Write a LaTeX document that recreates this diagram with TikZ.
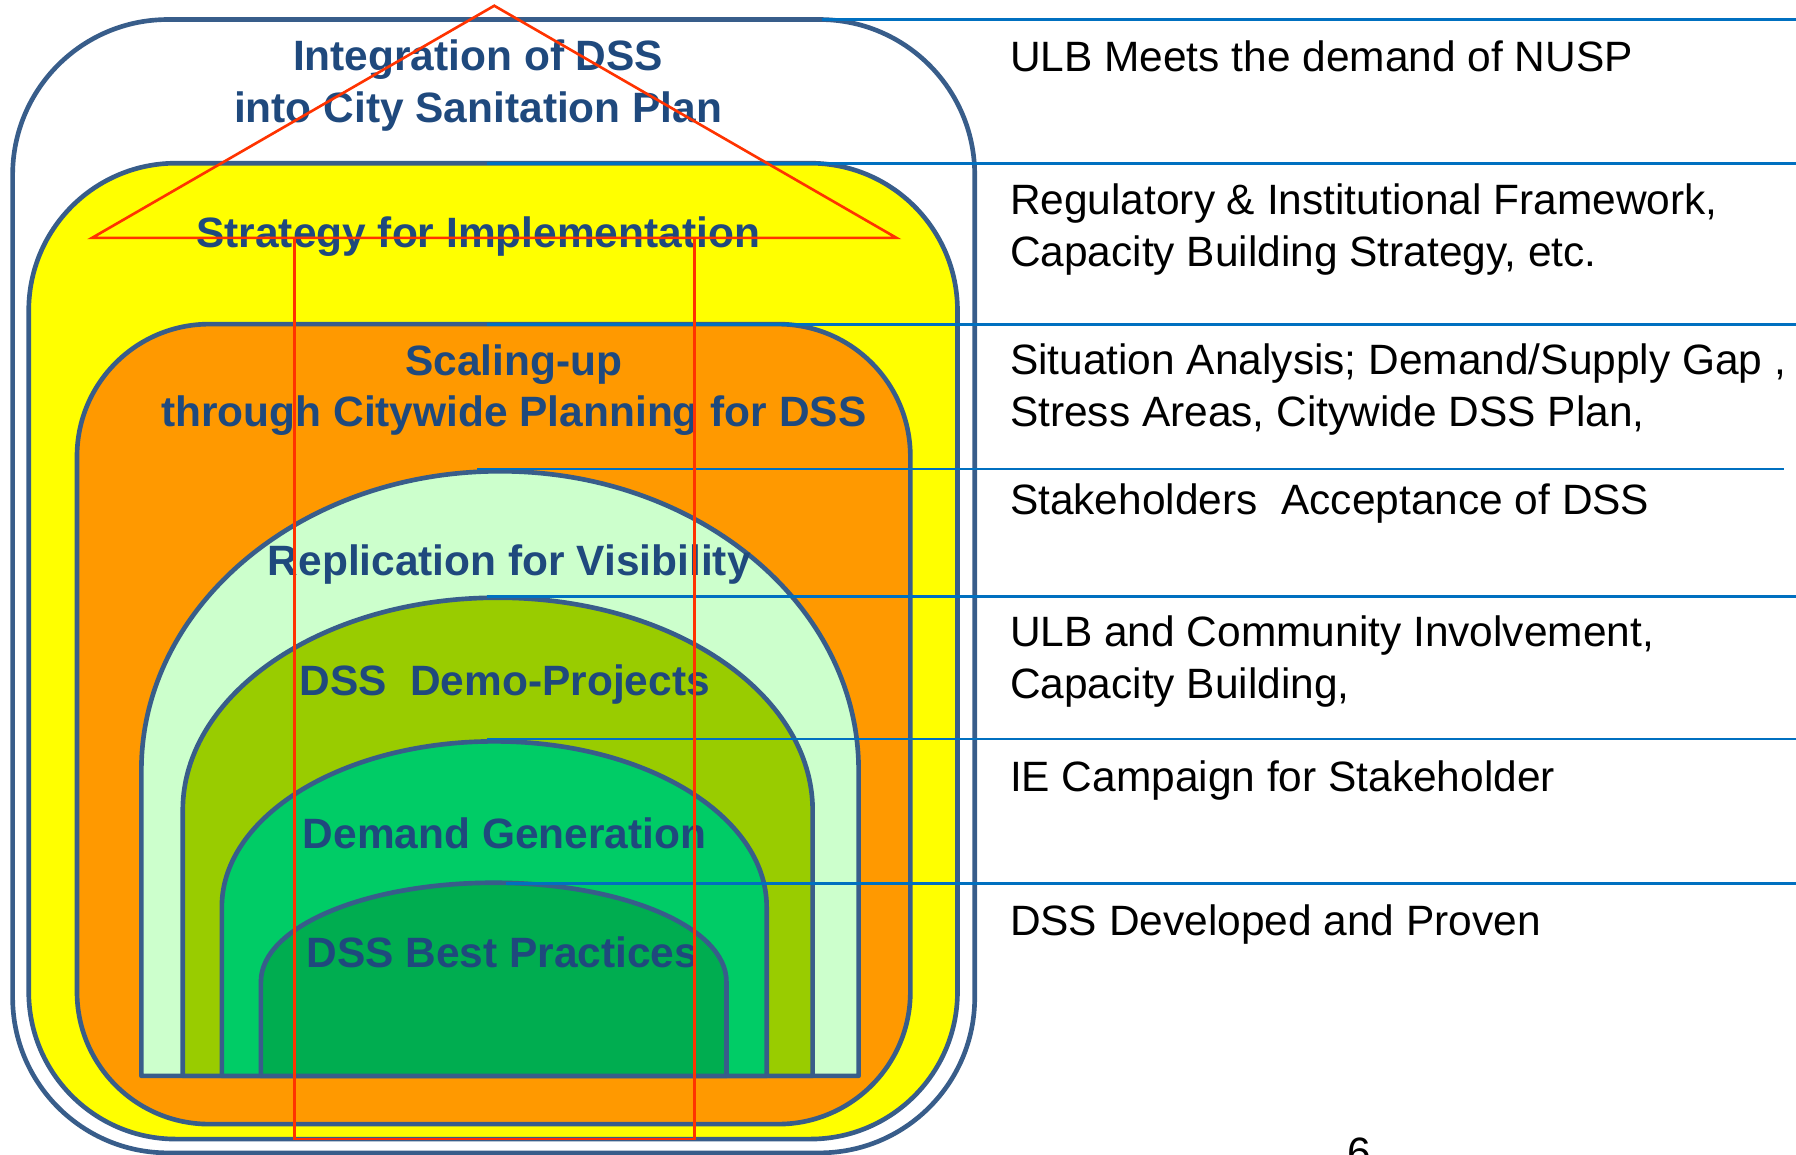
\documentclass[tikz,border=0pt]{standalone}
\usepackage{fontspec}
\setmainfont{Liberation Sans}
\usepackage{tikz}
\usetikzlibrary{positioning}
\definecolor{dssslate}{RGB}{56,93,138}
\definecolor{dssnavy}{RGB}{31,73,125}
\definecolor{dssline}{RGB}{0,112,192}
\definecolor{dssred}{RGB}{255,51,0}
\definecolor{dssyellow}{RGB}{255,255,0}
\definecolor{dssorange}{RGB}{255,153,0}
\definecolor{dssmint}{RGB}{204,255,204}
\definecolor{dsslime}{RGB}{153,204,0}
\definecolor{dssgreen}{RGB}{0,204,102}
\definecolor{dssdeep}{RGB}{0,173,80}
\tikzstyle{ring} = [draw=dssslate, line width=1.15pt]
\tikzstyle{dome} = [draw=dssslate, line width=1.15pt, line join=round]
\tikzstyle{ringtext} = [font=\fontsize{10.5}{12.8}\selectfont\bfseries, text=dssnavy, align=center, inner sep=0pt]
\tikzstyle{sidetext} = [font=\fontsize{10.5}{12.8}\selectfont, text=black, align=left, inner sep=0pt]
\tikzstyle{divider} = [draw=dssline, line width=0.7pt]
\tikzstyle{house} = [draw=dssred, line width=0.65pt]

\begin{document}
\begin{tikzpicture}[x=0.01cm, y=-0.01cm]
\useasboundingbox (0,0) rectangle (1562.5,1004.6);

% nested layers
\draw[ring, fill=white, rounded corners=1.35cm] (11,17) rectangle (848,1003);
\draw[ring, fill=dssyellow, rounded corners=1.28cm] (25,142) rectangle (833,991);
\draw[ring, fill=dssorange, rounded corners=1.15cm] (67,282) rectangle (792,978);

% domes
\draw[dome, fill=dssmint] (123,936) -- (123,670) arc[start angle=180, end angle=360, x radius=312, y radius=260] -- (747,936) -- cycle;
\draw[dome, fill=dsslime] (159,936) -- (159,705) arc[start angle=180, end angle=360, x radius=274, y radius=185] -- (707,936) -- cycle;
\draw[dome, fill=dssgreen] (193,936) -- (193,789) arc[start angle=180, end angle=360, x radius=237, y radius=144] -- (667,936) -- cycle;
\draw[dome, fill=dssdeep] (227,936) -- (227,854) arc[start angle=180, end angle=360, x radius=202.5, y radius=86] -- (632,936) -- cycle;

% dividers
\draw[divider] (715,17) -- (1562.5,17);
\draw[divider] (424,142) -- (1562.5,142);
\draw[divider] (424,282) -- (1562.5,282);
\draw[divider] (415,408) -- (1552,408);
\draw[divider] (424,519) -- (1562.5,519);
\draw[divider] (424,643) -- (1562.5,643);
\draw[divider] (440,769) -- (1562.5,769);

% layer names
\node[ringtext] (integ) at (416,74.5) {Integration of DSS\\into City Sanitation Plan};
\node[ringtext, anchor=base] (strat) at (416,215) {Strategy for Implementation};
\node[ringtext] (scale) at (447,339.5) {Scaling-up\\through Citywide Planning for DSS};
\node[ringtext, anchor=base] (repl) at (443,501) {Replication for Visibility};
\node[ringtext, anchor=base] (demo) at (439,605) {DSS\ \ Demo-Projects};
\node[ringtext, anchor=base] (demand) at (439,738) {Demand Generation};
\node[ringtext, anchor=base] (best) at (437,842) {DSS Best Practices};

% side notes
\node[sidetext, anchor=base west] (nusp) at (878,62) {ULB Meets the demand of NUSP};
\node[sidetext, anchor=west] (frame) at (878,199.5) {Regulatory \& Institutional Framework,\\Capacity Building Strategy, etc.};
\node[sidetext, anchor=west] (gap) at (878,339) {Situation Analysis; Demand/Supply Gap ,\\Stress Areas, Citywide DSS Plan,};
\node[sidetext, anchor=base west] (accept) at (878,448) {Stakeholders\ \ Acceptance of DSS};
\node[sidetext, anchor=west] (involve) at (878,575.5) {ULB and Community Involvement,\\Capacity Building,};
\node[sidetext, anchor=base west] (campaign) at (878,689) {IE Campaign for Stakeholder};
\node[sidetext, anchor=base west] (proven) at (878,814) {DSS Developed and Proven};
\node[sidetext, anchor=base] (page) at (1183,1016) {6};

% house outline
\draw[house] (80,207) -- (430,5) -- (780,207) -- cycle;
\draw[house] (256,207) rectangle (604,991);
\end{tikzpicture}
\end{document}
